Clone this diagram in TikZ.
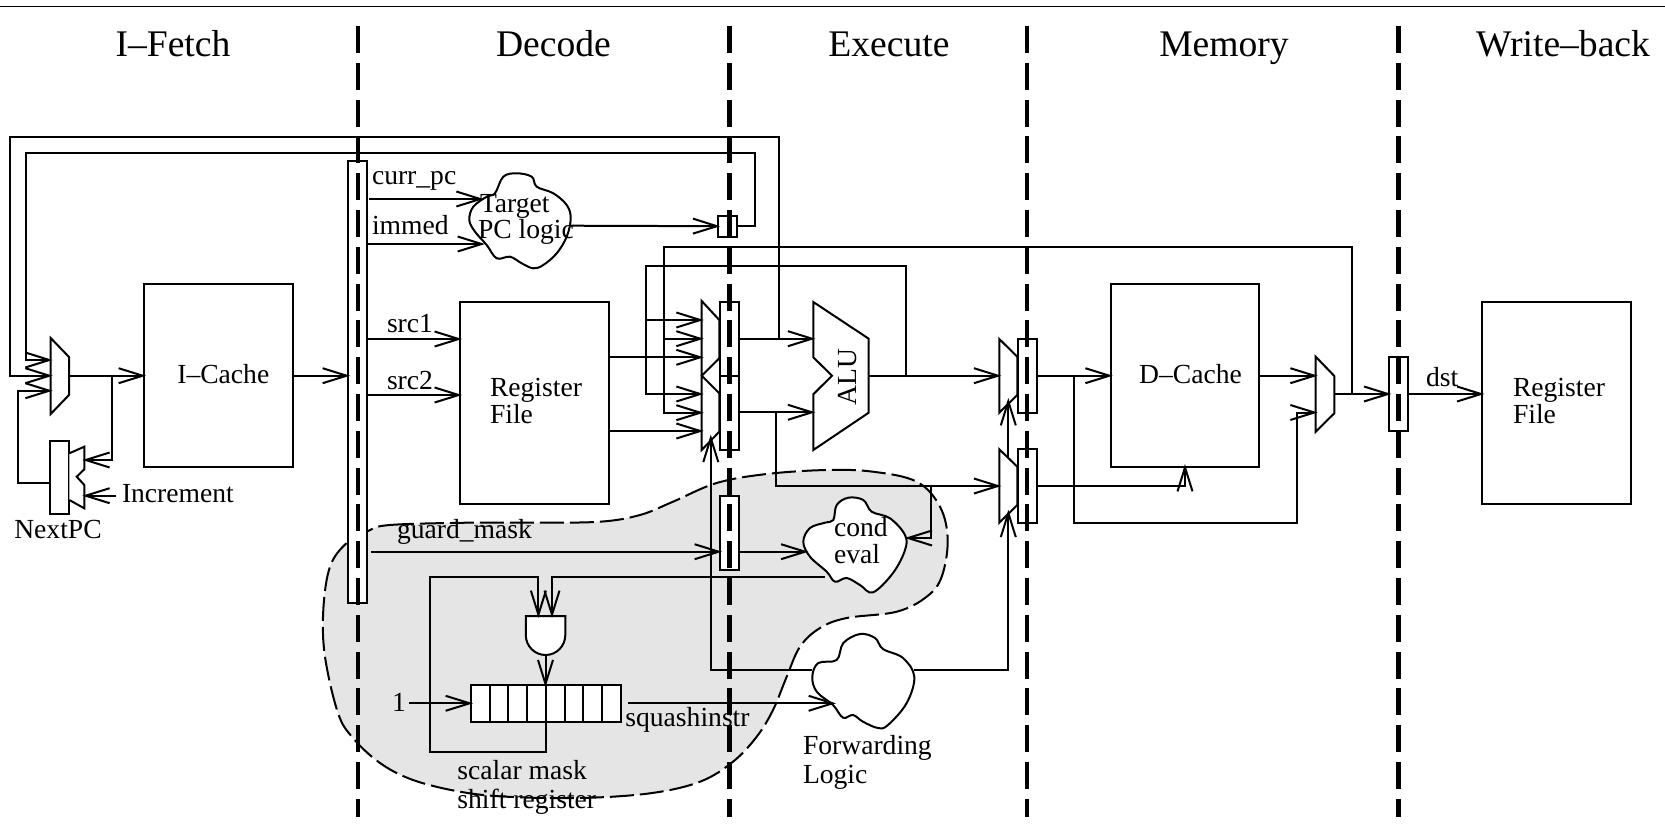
\documentclass[tikz,border=0pt]{standalone}
\usepackage{fontspec}
\setmainfont{Liberation Serif}
\usetikzlibrary{arrows.meta}
\definecolor{blobgray}{HTML}{E5E5E5}
\tikzset{
  wire/.style={line width=2pt,line join=miter},
  arr/.style={wire,shorten >=-2pt,-{Straight Barb[length=24pt,width=15pt]}},
  boxn/.style={draw,wire,inner sep=0pt,outer sep=0pt,fill=white},
  gate/.style={draw,wire,fill=white},
  cloud/.style={draw,wire,fill=white},
  stage/.style={line width=4.6pt,dash pattern=on 27pt off 9.8pt},
  lbl/.style={inner sep=0pt,outer sep=0pt,yshift=-1.3pt,font=\fontsize{27.6}{30}\selectfont},
  head/.style={inner sep=0pt,outer sep=0pt,yshift=-1pt,font=\fontsize{37.6}{40}\selectfont}
}
\newcommand{\bx}[6][]{\node[boxn,#1,minimum width={(#5-#3)*1pt},minimum height={(#6-#4)*1pt}] (#2) at ({(#3+#5)/2},{(#4+#6)/2}) {};}
\begin{document}
\begin{tikzpicture}[x=1pt,y=-1pt]
\useasboundingbox (0,0) rectangle (1665,835);
% top rule
\coordinate (ruleL) at (0,6.5);
\coordinate (ruleR) at (1665,6.5);
\draw[line width=1.6pt] (ruleL) -- (ruleR);
% shaded blob
\draw[wire,fill=blobgray,dash pattern=on 24pt off 6pt]
  plot[smooth cycle,tension=0.6] coordinates {
  (368,531) (390,525) (467,522.7) (533,522.7) (600,521.7) (640,515) (673,501.7) (716.7,483) (766.7,474) (826.7,470) (873,471.7)
  (916.7,481.7) (940,506.7) (947.7,540) (941.7,576.7) (926.7,596.7) (896.7,611.7) (846.7,618) (820,628) (800,646.7) (786.7,676.7)
  (773,710) (756.7,736.7) (733,761.7) (700,781.7) (650,793.3) (580,798) (506.7,796.7) (460,791.7) (413,780) (380,763) (353,738) (338,713)
  (325,656.7) (323.3,610) (330,566.7) (346.7,543)};
% latches (under the stage lines)
\bx{dl}{348}{161}{366.7}{603.3}
\bx{pcl}{718.3}{215.7}{736.7}{236.7}
\bx{el1}{720}{302}{738.7}{375.7}
\bx{el2}{720}{375.7}{738.7}{450}
\bx{gl}{720}{496}{739}{570}
\bx{ml1}{1017.7}{339}{1036.7}{412.7}
\bx{ml2}{1017.7}{449.3}{1036.7}{522.7}
\bx{wl}{1389.3}{357.3}{1408}{431}
\bx{npc}{49.7}{440.7}{68.5}{514.3}
% stage separators
\foreach \n/\x in {a/357.8,b/729.4,c/1027,d/1398.7}{
  \coordinate (st\n t) at (\x,26);
  \coordinate (st\n b) at (\x,817);
  \draw[stage] (st\n t) -- (st\n b);
}
% boxes
\bx{ic}{144}{283.5}{292.5}{467}
\bx{rf}{460}{302}{608.5}{504}
\bx{dc}{1110.7}{283.5}{1259.3}{467.3}
\bx{rf2}{1482.4}{302}{1631}{504}
% gates
\coordinate (m1a) at (50.7,360);
\coordinate (m1b) at (50.7,375.7);
\coordinate (m1c) at (50.7,390.7);
\coordinate (m1o) at (69,375.7);
\draw[gate] (50.7,338) -- (69,357) -- (69,395) -- (50.7,414) -- cycle;
\draw[gate] (69.3,453.3) -- (84.3,446.7) -- (84.3,469.3) -- (76.7,476.7) -- (84.3,485) -- (84.3,508.3) -- (69.3,500);
\draw[gate] (701.7,301) -- (719.3,320) -- (719.3,358.3) -- (701.7,375.7) -- (719.3,393.3) -- (719.3,431.7) -- (701.7,450) -- cycle;
\draw[gate] (813.3,302) -- (868.7,338.7) -- (868.7,412.7) -- (813.3,450) -- (813.3,394.3) -- (832,375.7) -- (813.3,357.3) -- cycle;
\draw[gate] (999.3,339) -- (1017.3,356.7) -- (1017.3,395) -- (999.3,412.7) -- cycle;
\draw[gate] (999.3,449.3) -- (1017.3,466.7) -- (1017.3,505) -- (999.3,522.7) -- cycle;
\draw[gate] (1315.7,356.7) -- (1334.3,376) -- (1334.3,413.3) -- (1315.7,431.7) -- cycle;
\draw[gate] (525.8,616) -- (565.3,616) -- (565.3,635) arc[start angle=0,end angle=180,x radius=19.75,y radius=20] -- cycle;
% shift register
\bx{sr}{471}{685.3}{620.6}{722.3}
\foreach \i in {1,...,7}{
  \coordinate (srt\i) at ({471+\i*18.7},685.3);
  \coordinate (srb\i) at ({471+\i*18.7},722.3);
  \draw[wire] (srt\i) -- (srb\i);
}
% clouds
\draw[cloud] plot[smooth cycle,tension=0.6] coordinates {
 (503.3,176.7) (516.7,173.3) (531.7,176.7) (536.7,186.7) (553.3,193.3) (566.7,205) (570.7,218.3) (566.7,236.7) (556.7,253.3) (543.3,265) (533.3,268.3) (521.7,263.3) (510,256.7) (496.7,258.3) (486.7,245) (475,231.7) (469.3,220) (473.3,206.7) (486.7,196.7) (495,193.3)};
\draw[cloud] plot[smooth cycle,tension=0.6] coordinates {
 (833.3,520) (836.7,505) (848.3,497.7) (863.3,500) (871.7,511.7) (890,518.3) (905,535) (905,550) (893,573) (873,592.3) (860,585) (846.7,578) (835,581.7) (826.7,571.7) (810,556.7) (803.3,541.7) (810,528) (825,522.7)};
\draw[cloud] plot[smooth cycle,tension=0.6] coordinates {
 (812.3,676.7) (818.3,663) (836.7,660) (843.3,643) (860,634) (875,638) (883,649) (903,658) (914.3,676.7) (906.7,703) (888,725) (878,728) (863,721.7) (853,715) (843,717.7) (833,705) (816.7,691.7)};
% ports
\coordinate (i1) at (755.3,152.7);
\coordinate (o1) at (10,137);
\coordinate (i2) at (25.7,152.7);
\coordinate (j1) at (778.5,338.7);
\coordinate (alu1) at (813.3,338.7);
\coordinate (alu2) at (813.3,412.3);
\coordinate (aluo) at (868.7,375.7);
\coordinate (j2) at (776,412.3);
\coordinate (m4i) at (999.3,486);
\coordinate (m3i) at (999.3,375.7);
\coordinate (ceb) at (930.7,486);
\coordinate (cer) at (906.7,538);
\coordinate (tl1) at (481.7,199);
\coordinate (tl2) at (483,244);
\coordinate (tlo) at (570,225.7);
\coordinate (ee1) at (701.7,320);
\coordinate (ee2) at (701.7,338.7);
\coordinate (ee3) at (701.7,357.3);
\coordinate (ee4) at (701.7,394);
\coordinate (ee5) at (701.7,412.7);
\coordinate (ee6) at (701.7,431);
\coordinate (by1) at (645.7,265.5);
\coordinate (by1r) at (905.8,265.5);
\coordinate (by2) at (664,247.3);
\coordinate (by2r) at (1352.3,247.3);
\coordinate (j3) at (1352.3,394);
\coordinate (j4) at (905.8,375.7);
\coordinate (m5a) at (1315.7,375.7);
\coordinate (m5b) at (1315.7,412.5);
\coordinate (m5o) at (1334.3,394);
\coordinate (j5) at (1073.7,375.7);
\coordinate (w5) at (1296.7,522.7);
\coordinate (dca) at (1185,466);
\coordinate (j6) at (111.7,375.7);
\coordinate (ad1) at (84.3,460);
\coordinate (ad2) at (84.3,495.7);
\coordinate (incr) at (115.7,495.7);
\coordinate (n1) at (18.3,483);
\coordinate (srj) at (545.5,722.3);
\coordinate (fb1) at (430,751.7);
\coordinate (fb2) at (430,577.3);
\coordinate (an1) at (538.4,616);
\coordinate (an2) at (552,616);
\coordinate (ceo) at (825,577.3);
\coordinate (ano) at (545.5,655);
\coordinate (sri) at (471,703.3);
\coordinate (one) at (409,703.3);
\coordinate (sro) at (627.7,703.3);
\coordinate (fci) at (834,703.3);
\coordinate (fcl) at (812,670);
\coordinate (fcr) at (914,670);
\coordinate (sel1) at (710.8,436.7);
\coordinate (sel4) at (1008.3,511.7);
\coordinate (m4t) at (1008.3,458);
\coordinate (sel3) at (1008.3,400);
\coordinate (gi) at (370.8,551.7);
\coordinate (gc) at (806.4,551.7);
\coordinate (rfa) at (460,339);
\coordinate (rfb) at (460,395);
% connectors
\draw[arr] (m1o) -- (ic.west |- m1o);
\draw[arr] (ic.east |- m1o) -- (dl.west |- m1o);
\draw[arr] (j1) -- (778.5,137) -- (o1) -- (o1 |- m1b) -- (m1b);
\draw[arr] (pcl.east) -| (i1) -- (i2) -- (i2 |- m1a) -- (m1a);
\draw[arr] (npc.west |- n1) -- (n1) -- (n1 |- m1c) -- (m1c);
\draw[arr] (j6) -- (j6 |- ad1) -- (ad1);
\draw[arr] (incr) -- (ad2);
\draw[arr] (dl.east |- tl1) ++(2.3,0) -- (tl1);
\draw[arr] (dl.east |- tl2) -- (tl2);
\draw[arr] (tlo) -- (pcl.west);
\draw[arr] (dl.east |- rfa) -- (rfa);
\draw[arr] (dl.east |- rfb) -- (rfb);
\draw[arr] (rf.east |- ee3) -- (ee3);
\draw[arr] (rf.east |- ee6) -- (ee6);
\draw[arr] (by1r |- j4) -- (by1r) -- (by1) -- (by1 |- ee4) -- (ee4);
\draw[arr] (by1 |- ee1) -- (ee1);
\draw[arr] (j3) -- (by2r) -- (by2) -- (by2 |- ee5) -- (ee5);
\draw[arr] (by2 |- ee2) -- (ee2);
\draw[arr] (el1.east |- alu1) -- (alu1);
\draw[arr] (el2.east |- alu2) -- (alu2);
\draw[arr] (aluo) -- (m3i);
\draw[arr] (j2) -- (j2 |- m4i) -- (m4i);
\draw[arr] (ceb) -- (ceb |- cer) -- (cer);
\draw[arr] (ml1.east |- j5) -- (dc.west |- j5);
\draw[arr] (ml2.east |- m4i) -- (dca |- m4i) -- (dca);
\draw[arr] (j5) -- (j5 |- w5) -- (w5) -- (w5 |- m5b) -- (m5b);
\draw[arr] (dc.east |- m5a) -- (m5a);
\draw[arr] (m5o) -- (wl.west |- m5o);
\draw[arr] (wl.east |- m5o) -- (rf2.west |- m5o);
\draw[arr] (gi) -- (gl.west |- gi);
\draw[arr] (gl.east |- gc) -- (gc);
\draw[arr] (srj) -- (srj |- fb1) -- (fb1) -- (fb2) -- (an1 |- fb2) -- (an1);
\draw[arr] (ceo) -- (an2 |- ceo) -- (an2);
\draw[arr] (ano) -- (ano |- sr.north);
\draw[arr] (one) -- (sri);
\draw[arr] (sro) -- (fci);
\draw[arr] (fcl) -| (sel1);
\draw[arr] (fcr) -| (sel4);
\draw[arr] (m4t) -- (sel3);
% text
\node[head,anchor=base] (t1) at (173,55) {I–Fetch};
\node[head,anchor=base] (t2) at (553.5,55) {Decode};
\node[head,anchor=base] (t3) at (889,55) {Execute};
\node[head,anchor=base] (t4) at (1224,55) {Memory};
\node[head,anchor=base] (t5) at (1563,55) {Write–back};
\node[lbl,anchor=base] (l1) at (223.3,381.7) {I–Cache};
\node[lbl,anchor=base] (l2) at (1190.5,381.7) {D–Cache};
\node[lbl,anchor=base west] (l3) at (122,501) {Increment};
\node[lbl,anchor=base] (l4) at (58,536.7) {NextPC};
\node[lbl,anchor=base west] (l5) at (372,183) {curr\_pc};
\node[lbl,anchor=base west] (l6) at (372,233) {immed};
\node[lbl,anchor=base west] (l7) at (478,210.7) {\hspace{2pt}Target};
\node[lbl,anchor=base west] (l8) at (478,237) {PC logic};
\node[lbl,anchor=base west] (l9) at (387,331) {src1};
\node[lbl,anchor=base west] (l10) at (387,388) {src2};
\node[lbl,anchor=base west] (l11) at (490,395) {Register};
\node[lbl,anchor=base west] (l12) at (490,422) {File};
\node[lbl,anchor=base west] (l13) at (1513,395) {Register};
\node[lbl,anchor=base west] (l14) at (1513,422) {File};
\node[lbl,anchor=base west] (l15) at (1426,385) {dst};
\node[lbl,anchor=center,rotate=90] (l16) at (848,375.7) {ALU};
\node[lbl,anchor=base west] (l17) at (397,537) {guard\_mask};
\node[lbl,anchor=base west] (l18) at (834,535) {cond};
\node[lbl,anchor=base west] (l19) at (834,562) {eval};
\node[lbl,anchor=base] (l20) at (399,710) {1};
\node[lbl,anchor=base west] (l21) at (625.4,725) {squashinstr};
\node[lbl,anchor=base west] (l22) at (457.4,778.3) {scalar mask};
\node[lbl,anchor=base west] (l23) at (457.4,806.7) {shift register};
\node[lbl,anchor=base west] (l24) at (803,753) {Forwarding};
\node[lbl,anchor=base west] (l25) at (803,781.7) {Logic};
\end{tikzpicture}
\end{document}
